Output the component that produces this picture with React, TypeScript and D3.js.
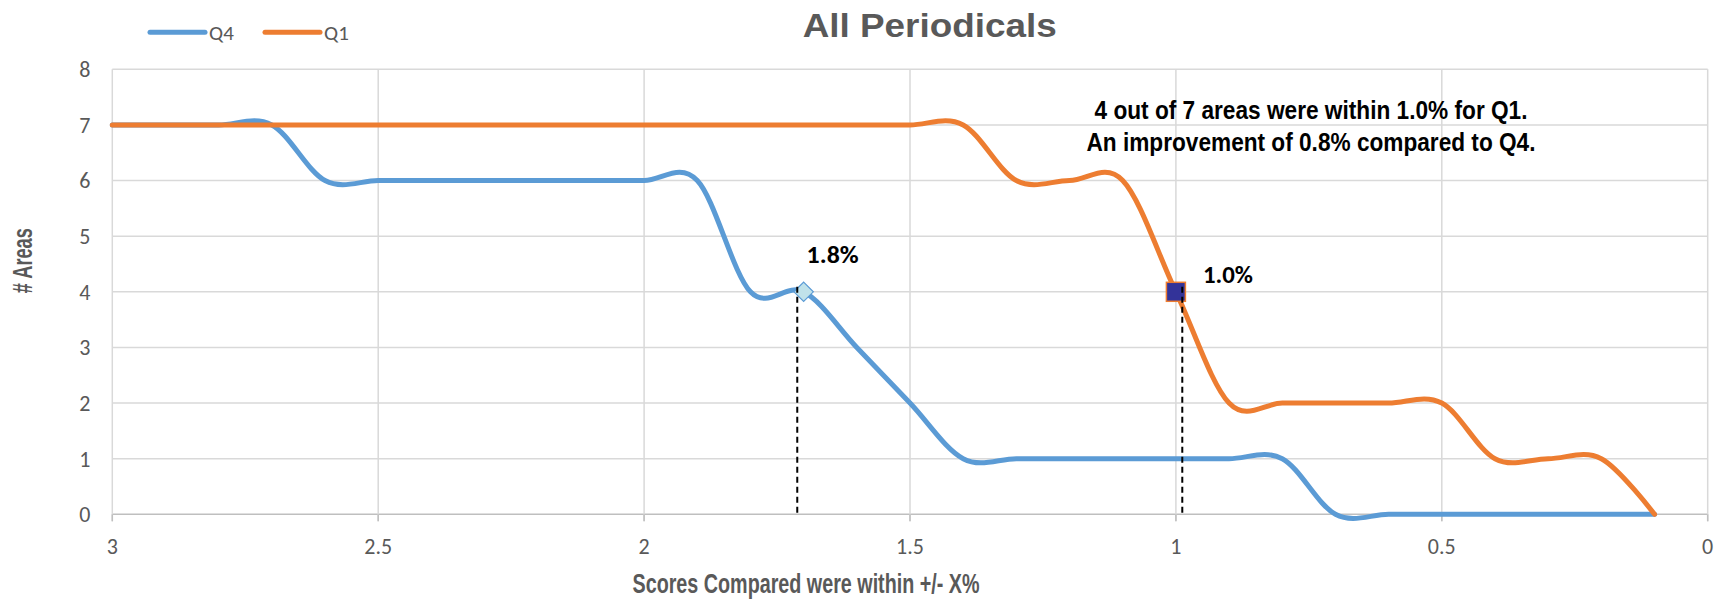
import React from "react";
import * as d3 from "d3";

const xValues = [3.0, 2.9, 2.8, 2.7, 2.6, 2.5, 2.4, 2.3, 2.2, 2.1, 2.0, 1.9, 1.8, 1.7, 1.6, 1.5, 1.4, 1.3, 1.2, 1.1, 1.0, 0.9, 0.8, 0.7, 0.6, 0.5, 0.4, 0.3, 0.2, 0.1];
const q4Values = [7, 7, 7, 7, 6, 6, 6, 6, 6, 6, 6, 6, 4, 4, 3, 2, 1, 1, 1, 1, 1, 1, 1, 0, 0, 0, 0, 0, 0, 0];
const q1Values = [7, 7, 7, 7, 7, 7, 7, 7, 7, 7, 7, 7, 7, 7, 7, 7, 7, 6, 6, 6, 4, 2, 2, 2, 2, 2, 1, 1, 1, 0];
const xTicks = [3, 2.5, 2, 1.5, 1, 0.5, 0];
const xTickLabels = ["3", "2.5", "2", "1.5", "1", "0.5", "0"];
const yTicks = [0, 1, 2, 3, 4, 5, 6, 7, 8];
const seriesNames = ["Q4", "Q1"];
const seriesColors = ["#5B9BD5", "#ED7D31"];
const highlightX = [1.7, 1.0];
const highlightY = [4, 4];
const highlightLabels = ["1.8%", "1.0%"];
const dropLineX = [1.712, 0.988];
const title = "All Periodicals";
const xTitle = "Scores Compared were within +/- X%";
const yTitle = "# Areas";
const noteLines = ["4 out of 7 areas were within 1.0% for Q1.", "An improvement of 0.8% compared to Q4."];

const W = 1723;
const H = 600;
const M = { left: 112.3, right: 1707.7, top: 69.3, bottom: 514.3 };

export default function App() {
  const x = d3.scaleLinear().domain([3, 0]).range([M.left, M.right]);
  const y = d3.scaleLinear().domain([0, 8]).range([M.bottom, M.top]);
  const line = d3
    .line<[number, number]>()
    .x((d) => x(d[0]))
    .y((d) => y(d[1]))
    .curve(d3.curveCatmullRom.alpha(0));
  const series = [q4Values, q1Values];
  const tickFont = "Carlito, Lato, 'Open Sans', sans-serif";
  const boldFont = "'Liberation Sans', Arial, sans-serif";
  const gray = "#595959";

  return (
    <svg width={W} height={H} style={{ position: "absolute", left: 0, top: 0, background: "#fff" }}>
      {yTicks.map((t) => (
        <line key={"gy" + t} x1={M.left} x2={M.right} y1={y(t)} y2={y(t)} stroke={t === 0 ? "#bfbfbf" : "#d9d9d9"} strokeWidth={1.5} />
      ))}
      {xTicks.map((t) => (
        <line key={"gx" + t} x1={x(t)} x2={x(t)} y1={M.top} y2={M.bottom + 7} stroke="#d9d9d9" strokeWidth={1.5} />
      ))}
      {xTicks.map((t) => (
        <line key={"tx" + t} x1={x(t)} x2={x(t)} y1={M.bottom} y2={M.bottom + 7} stroke="#bfbfbf" strokeWidth={1.5} />
      ))}
      {yTicks.map((t) => (
        <text key={"ly" + t} x={M.left - 22} y={y(t)} dy="0.36em" textAnchor="end" fontFamily={tickFont} fontSize={22} fill={gray}>
          {t}
        </text>
      ))}
      {xTicks.map((t, i) => (
        <text key={"lx" + t} x={x(t)} y={M.bottom + 40} textAnchor="middle" fontFamily={tickFont} fontSize={22} fill={gray}>
          {xTickLabels[i]}
        </text>
      ))}
      {series.map((vals, si) => (
        <path
          key={"s" + si}
          d={line(xValues.map((xv, i) => [xv, vals[i]] as [number, number])) || ""}
          fill="none"
          stroke={seriesColors[si]}
          strokeWidth={5}
          strokeLinecap="round"
          strokeLinejoin="round"
        />
      ))}
      <path
        d={d3.symbol(d3.symbolDiamond2, 240)() || ""}
        transform={`translate(${x(highlightX[0])},${y(highlightY[0])})`}
        fill="#c0e2ea"
        stroke={seriesColors[0]}
        strokeWidth={1.2}
      />
      <rect
        x={x(highlightX[1]) - 9.5}
        y={y(highlightY[1]) - 9.5}
        width={19}
        height={19}
        fill="#333399"
        stroke={seriesColors[1]}
        strokeWidth={1.5}
      />
      {dropLineX.map((dx, i) => (
        <line key={"d" + i} x1={x(dx)} x2={x(dx)} y1={y(highlightY[i]) - 5} y2={M.bottom} stroke="#000" strokeWidth={2} strokeDasharray="6,4" />
      ))}
      <text x={x(highlightX[0]) + 3} y={y(highlightY[0]) - 29} fontFamily={tickFont} fontWeight="bold" fontSize={24} fill="#000" textLength={52} lengthAdjust="spacingAndGlyphs">
        {highlightLabels[0]}
      </text>
      <text x={x(highlightX[1]) + 27} y={y(highlightY[1]) - 9} fontFamily={tickFont} fontWeight="bold" fontSize={24} fill="#000" textLength={50} lengthAdjust="spacingAndGlyphs">
        {highlightLabels[1]}
      </text>
      {noteLines.map((s, i) => (
        <text
          key={"n" + i}
          x={1311}
          y={119 + i * 32}
          textAnchor="middle"
          fontFamily={boldFont}
          fontWeight="bold"
          fontSize={25}
          fill="#000"
          textLength={i === 0 ? 433 : 449}
          lengthAdjust="spacingAndGlyphs"
        >
          {s}
        </text>
      ))}
      <text x={929.7} y={36.7} textAnchor="middle" fontFamily={boldFont} fontWeight="bold" fontSize={34} fill={gray} textLength={254} lengthAdjust="spacingAndGlyphs">
        {title}
      </text>
      <text x={806} y={592.7} textAnchor="middle" fontFamily={boldFont} fontWeight="bold" fontSize={27} fill={gray} textLength={347} lengthAdjust="spacingAndGlyphs">
        {xTitle}
      </text>
      <text
        transform={`translate(31.5,${260.7}) rotate(-90)`}
        textAnchor="middle"
        fontFamily={boldFont}
        fontWeight="bold"
        fontSize={27}
        fill={gray}
        textLength={65}
        lengthAdjust="spacingAndGlyphs"
      >
        {yTitle}
      </text>
      {seriesNames.map((n, i) => (
        <g key={"lg" + i} transform={`translate(${150 + i * 115},32.3)`}>
          <line x1={0} x2={55} y1={0} y2={0} stroke={seriesColors[i]} strokeWidth={5} strokeLinecap="round" />
          <text x={59} y={0} dy="0.36em" fontFamily={tickFont} fontSize={21} fill={gray}>
            {n}
          </text>
        </g>
      ))}
    </svg>
  );
}
